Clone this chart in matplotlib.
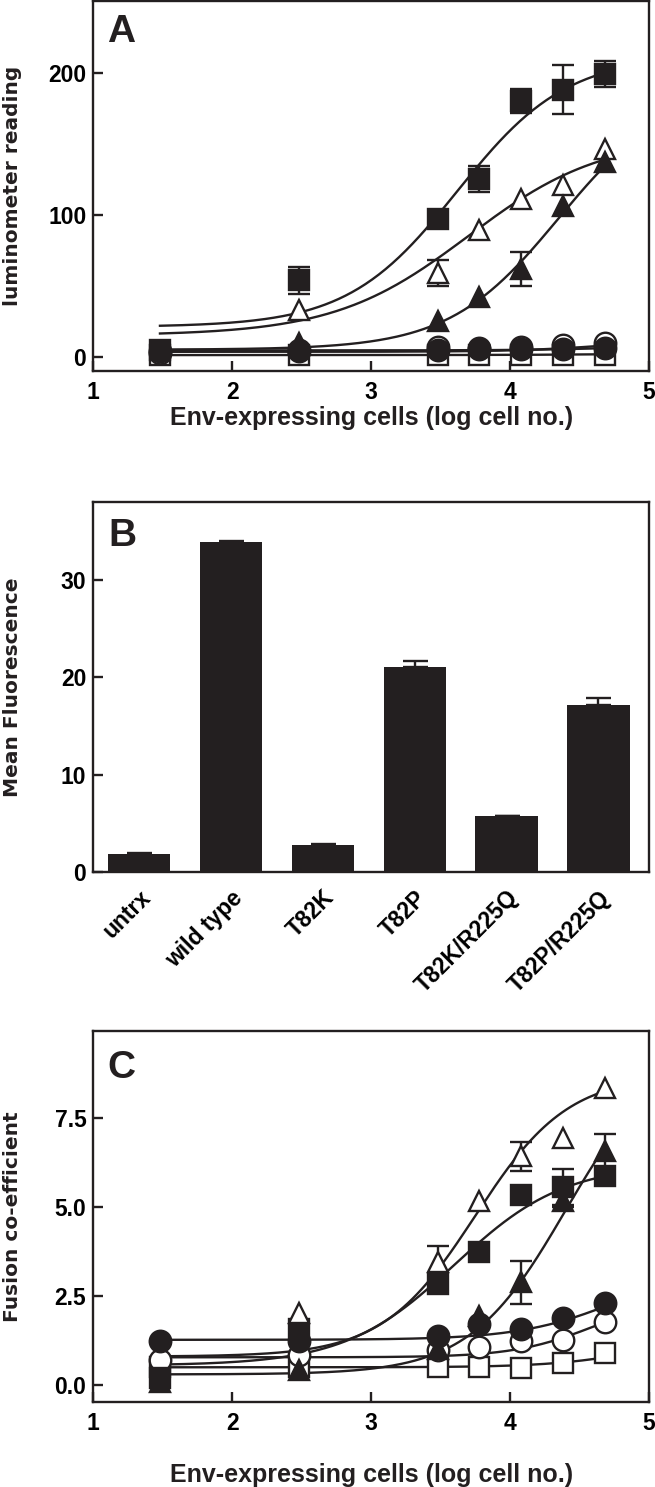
import numpy as np
import matplotlib
matplotlib.use("Agg")
import matplotlib.pyplot as plt

INK = "#231f20"

plt.rcParams["font.family"] = ["Liberation Sans", "DejaVu Sans"]
plt.rcParams["font.weight"] = "bold"

log_cells = [1.48, 2.48, 3.48, 3.78, 4.08, 4.38, 4.68]

# panel A - luminometer reading
a_filled_sq = [5, 54, 97, 125, 180, 188, 199]
a_filled_sq_err = [0, 9.5, 0, 9, 8.5, 17.5, 9]
a_open_tri = [np.nan, 33, 59, 89, 111, 121, 146]
a_open_tri_err = [0, 0, 9.4, 0, 0, 0, 0]
a_filled_tri = [np.nan, 10, 25, 42, 62, 106, 137]
a_filled_tri_err = [0, 0, 0, 0, 12, 0, 0]
a_filled_circ = [4, 5, 5, 5.5, 5.5, 5.8, 6.5]
a_open_circ = [3, 4, 7, 6, 7.2, 8, 10]
a_open_sq = [1, 1, 1.2, 1.2, 1.4, 1.4, 1.5]

# fitted curves: (bottom, top, log EC50, hill)
a_filled_sq_fit = (21, 212, 3.62, 1.1)
a_open_tri_fit = (15, 155, 3.70, 0.9)
a_filled_tri_fit = (5, 190, 4.35, 1.1)
a_filled_circ_fit = (4.5, 10, 5.0, 1.2)
a_open_circ_fit = (3.5, 14, 4.8, 1.2)
a_open_sq_fit = (1.2, 3, 5.0, 1.0)

# panel B - mean fluorescence
b_labels = ["untrx", "wild type", "T82K", "T82P", "T82K/R225Q", "T82P/R225Q"]
b_values = [1.9, 33.85, 2.8, 21.0, 5.76, 17.2]
b_err = [0.05, 0.15, 0.05, 0.7, 0.05, 0.7]

# panel C - fusion co-efficient
c_open_tri = [np.nan, 2.03, 3.45, 5.16, 6.41, 6.93, 8.32]
c_open_tri_err = [0, 0, 0.45, 0, 0.4, 0, 0]
c_filled_sq = [0.2, 1.56, 2.83, 3.73, 5.33, 5.55, 5.85]
c_filled_sq_err = [0, 0, 0, 0, 0, 0.5, 0]
c_filled_tri = [0.1, 0.42, 1.0, 1.95, 2.88, 5.15, 6.56]
c_filled_tri_err = [0, 0, 0, 0, 0.6, 0.15, 0.47]
c_filled_circ = [1.23, 1.25, 1.37, 1.7, 1.56, 1.89, 2.31]
c_open_circ = [0.7, 0.85, 0.99, 1.08, 1.23, 1.27, 1.76]
c_open_sq = [0.5, 0.5, 0.52, 0.52, 0.47, 0.61, 0.9]

c_open_tri_fit = (0.8, 8.7, 3.75, 1.3)
c_filled_sq_fit = (0.55, 6.2, 3.6, 1.1)
c_filled_tri_fit = (0.3, 9.5, 4.4, 1.25)
c_filled_circ_fit = (1.27, 3.5, 4.8, 1.2)
c_open_circ_fit = (0.78, 2.5, 4.6, 1.5)
c_open_sq_fit = (0.5, 1.5, 5.0, 1.3)


def logistic(x, bottom, top, mid, hill):
    return bottom + (top - bottom) / (1 + 10 ** ((mid - x) * hill))


def plot_series(ax, y, fit, marker, filled, err=None):
    xs = np.linspace(log_cells[0], log_cells[-1], 200)
    ax.plot(xs, logistic(xs, *fit), color=INK, lw=1.7, zorder=2)
    if err is not None:
        x_e = [x for x, e in zip(log_cells, err) if e > 0]
        y_e = [v for v, e in zip(y, err) if e > 0]
        e_e = [e for e in err if e > 0]
        ax.errorbar(x_e, y_e, yerr=e_e, fmt="none", ecolor=INK, elinewidth=1.7,
                    capsize=8, capthick=1.7, zorder=2.5)
    ax.plot(log_cells, y, ls="none", marker=marker, ms=15 if marker != "o" else 15.5,
            mfc=INK if filled else "white", mec=INK, mew=1.7, zorder=3)


def style_axes(ax):
    for sp in ax.spines.values():
        sp.set_linewidth(1.7)
        sp.set_color(INK)
    ax.tick_params(direction="in", length=7, width=1.7, color=INK,
                   labelsize=16.5, top=False, right=False)
    ax.tick_params(axis="y", pad=5)
    ax.tick_params(axis="x", pad=7)


label_font = dict(family="DejaVu Sans", weight="bold", size=14.5, color=INK)
xlabel_font = dict(family="Liberation Sans", weight="bold", size=18, color=INK)
panel_font = dict(weight="bold", size=28, color=INK)

fig = plt.figure(figsize=(6.55, 14.87), dpi=100)

# ---- panel A
ax = fig.add_axes([0.1424, 0.7505, 0.8484, 0.2485])
plot_series(ax, a_open_sq, a_open_sq_fit, "s", False)
plot_series(ax, a_open_circ, a_open_circ_fit, "o", False)
plot_series(ax, a_filled_circ, a_filled_circ_fit, "o", True)
plot_series(ax, a_open_tri, a_open_tri_fit, "^", False, a_open_tri_err)
plot_series(ax, a_filled_tri, a_filled_tri_fit, "^", True, a_filled_tri_err)
plot_series(ax, a_filled_sq, a_filled_sq_fit, "s", True, a_filled_sq_err)
ax.set_xlim(1, 5)
ax.set_ylim(-10, 250)
ax.set_xticks([1, 2, 3, 4, 5])
ax.set_yticks([0, 100, 200])
style_axes(ax)
ax.set_ylabel("luminometer reading", **label_font)
ax.yaxis.set_label_coords(-0.128, 0.5)
ax.set_xlabel("Env-expressing cells (log cell no.)", **xlabel_font)
ax.xaxis.set_label_coords(0.5, -0.095)
ax.text(0.025, 0.965, "A", transform=ax.transAxes, ha="left", va="top", **panel_font)

# ---- panel B
ax = fig.add_axes([0.1424, 0.4134, 0.8484, 0.2492])
pos = np.arange(len(b_labels))
ax.bar(pos, b_values, width=0.68, color=INK, zorder=2)
ax.errorbar(pos, b_values, yerr=[np.zeros(len(b_err)), b_err], fmt="none",
            ecolor=INK, elinewidth=1.7, capsize=9, capthick=1.7, zorder=1)
ax.set_xlim(-0.5, 5.55)
ax.set_ylim(0, 38)
ax.set_yticks([0, 10, 20, 30])
ax.set_xticks(pos)
style_axes(ax)
ax.tick_params(axis="x", length=0, pad=10)
ax.set_xticklabels(b_labels, rotation=45, ha="right", rotation_mode="anchor")
ax.set_ylabel("Mean Fluorescence", **label_font)
ax.yaxis.set_label_coords(-0.128, 0.5)
ax.text(0.027, 0.955, "B", transform=ax.transAxes, ha="left", va="top", **panel_font)

# ---- panel C
ax = fig.add_axes([0.1424, 0.0570, 0.8484, 0.2497])
plot_series(ax, c_open_sq, c_open_sq_fit, "s", False)
plot_series(ax, c_open_circ, c_open_circ_fit, "o", False)
plot_series(ax, c_filled_circ, c_filled_circ_fit, "o", True)
plot_series(ax, c_filled_sq, c_filled_sq_fit, "s", True, c_filled_sq_err)
plot_series(ax, c_filled_tri, c_filled_tri_fit, "^", True, c_filled_tri_err)
plot_series(ax, c_open_tri, c_open_tri_fit, "^", False, c_open_tri_err)
ax.set_xlim(1, 5)
ax.set_ylim(-0.48, 9.93)
ax.set_xticks([1, 2, 3, 4, 5])
ax.set_yticks([0, 2.5, 5.0, 7.5])
ax.set_yticklabels(["0.0", "2.5", "5.0", "7.5"])
style_axes(ax)
ax.set_ylabel("Fusion co-efficient", **label_font)
ax.yaxis.set_label_coords(-0.128, 0.5)
ax.set_xlabel("Env-expressing cells (log cell no.)", **xlabel_font)
ax.xaxis.set_label_coords(0.5, -0.163)
ax.text(0.025, 0.95, "C", transform=ax.transAxes, ha="left", va="top", **panel_font)

fig.savefig("out.png", dpi=100)
